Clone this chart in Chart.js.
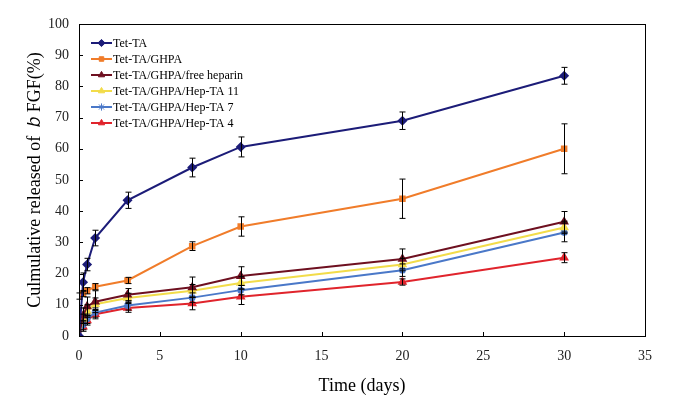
<!DOCTYPE html>
<html>
<head>
<meta charset="utf-8">
<script src="https://cdn.jsdelivr.net/npm/chart.js@4.4.1/dist/chart.umd.min.js"></script>
<style>
html,body{margin:0;padding:0;background:#fff;}
#wrap{width:677px;height:417px;}
</style>
</head>
<body>
<div id="wrap"><canvas id="c" width="677" height="417"></canvas></div>
<script>
// ---- data ----
const days = [0, 0.25, 0.5, 1, 3, 7, 10, 20, 30];
const seriesNames = ["Tet-TA", "Tet-TA/GHPA", "Tet-TA/GHPA/free heparin", "Tet-TA/GHPA/Hep-TA 11", "Tet-TA/GHPA/Hep-TA 7", "Tet-TA/GHPA/Hep-TA 4"];
const tetTA      = [0, 17.2, 22.9, 31.4, 43.5, 54.0, 60.6, 69.0, 83.4];
const tetTAErr   = [0, 3.0, 2.0, 2.5, 2.6, 3.0, 3.2, 2.8, 2.7];
const ghpa       = [12.8, 13.6, 14.5, 15.8, 17.8, 28.8, 35.1, 44.0, 60.0];
const ghpaErr    = [1.0, 1.0, 1.0, 1.0, 1.0, 1.4, 3.1, 6.3, 8.0];
const freeHep    = [0, 6.5, 9.5, 11.0, 13.2, 15.6, 19.2, 24.7, 36.6];
const freeHepErr = [0, 2.5, 3.0, 3.5, 2.0, 3.3, 3.0, 3.2, 3.3];
const hep11      = [0, 5.5, 8.0, 10.2, 12.2, 14.5, 17.0, 22.9, 34.8];
const hep11Err   = [0, 1.5, 2.0, 2.0, 1.5, 2.0, 2.0, 2.0, 2.0];
const hep7       = [0, 3.5, 5.5, 7.5, 9.8, 12.3, 14.7, 21.1, 33.2];
const hep7Err    = [0, 1.5, 1.5, 1.5, 1.5, 1.5, 1.5, 2.0, 3.0];
const hep4       = [0, 3.0, 5.0, 7.0, 9.0, 10.4, 12.6, 17.3, 25.1];
const hep4Err    = [0, 1.5, 1.5, 1.5, 1.4, 2.0, 2.5, 1.0, 1.6];
const xTicks = [0, 5, 10, 15, 20, 25, 30, 35];
const yTicks = [0, 10, 20, 30, 40, 50, 60, 70, 80, 90, 100];

const colors = ["#1c1c78", "#f07c2a", "#6e1020", "#f2dc4a", "#4a78c8", "#e0242c"];
const styles = ["rectRot", "rect", "triangle", "triangle", "star", "triangle"];
const values = [tetTA, ghpa, freeHep, hep11, hep7, hep4];
const errs = [tetTAErr, ghpaErr, freeHepErr, hep11Err, hep7Err, hep4Err];

const FONT = "'Times New Roman','Liberation Serif',serif";

const datasets = values.map((v, i) => ({
  label: seriesNames[i],
  data: days.map((d, j) => ({x: d, y: v[j]})),
  errors: errs[i],
  borderColor: colors[i],
  backgroundColor: colors[i],
  pointBackgroundColor: colors[i],
  pointBorderColor: colors[i],
  pointStyle: styles[i],
  pointRadius: styles[i] === 'rect' ? 3.2 : 3.6,
  borderWidth: 2,
  tension: 0
}));

const extras = {
  id: 'extras',
  afterDatasetsDraw(chart) {
    const ctx = chart.ctx;
    const xs = chart.scales.x, ys = chart.scales.y;
    const a = chart.chartArea;
    ctx.save();
    // error bars
    ctx.strokeStyle = '#000';
    ctx.lineWidth = 1;
    chart.data.datasets.forEach(ds => {
      ds.data.forEach((p, j) => {
        const e = ds.errors[j];
        if (!e) return;
        const px = Math.round(xs.getPixelForValue(p.x)) + 0.5;
        const y1 = ys.getPixelForValue(p.y + e);
        const y2 = ys.getPixelForValue(p.y - e);
        ctx.beginPath();
        ctx.moveTo(px, y1); ctx.lineTo(px, y2);
        ctx.moveTo(px - 3, y1); ctx.lineTo(px + 3, y1);
        ctx.moveTo(px - 3, y2); ctx.lineTo(px + 3, y2);
        ctx.stroke();
      });
    });
    // frame
    ctx.strokeStyle = '#000';
    ctx.lineWidth = 1;
    ctx.strokeRect(Math.round(a.left) + 0.5, Math.round(a.top) + 0.5, Math.round(a.right - a.left), Math.round(a.bottom - a.top));
    // inward ticks
    ctx.beginPath();
    xTicks.forEach(t => {
      const px = Math.round(xs.getPixelForValue(t)) + 0.5;
      ctx.moveTo(px, a.bottom); ctx.lineTo(px, a.bottom - 4);
    });
    yTicks.forEach(t => {
      const py = Math.round(ys.getPixelForValue(t)) + 0.5;
      ctx.moveTo(a.left, py); ctx.lineTo(a.left + 4, py);
    });
    ctx.stroke();
    // legend
    const lx = 91, ty = 43, step = 16;
    ctx.textBaseline = 'middle';
    chart.data.datasets.forEach((ds, i) => {
      const y = ty + i * step;
      ctx.strokeStyle = ds.borderColor;
      ctx.lineWidth = 2;
      ctx.beginPath();
      ctx.moveTo(lx, y); ctx.lineTo(lx + 21, y);
      ctx.stroke();
      ctx.fillStyle = ds.pointBackgroundColor;
      ctx.strokeStyle = ds.pointBorderColor;
      ctx.lineWidth = 1;
      Chart.helpers.drawPoint(ctx, {pointStyle: ds.pointStyle, radius: ds.pointRadius, rotation: 0, borderWidth: 1}, lx + 10.5, y);
      ctx.fillStyle = '#000';
      ctx.font = "12px " + FONT;
      ctx.fillText(ds.label, lx + 22, y + 1);
    });
    ctx.restore();
  }
};

new Chart(document.getElementById('c'), {
  type: 'line',
  data: {datasets},
  options: {
    responsive: false,
    animation: false,
    devicePixelRatio: 1,
    layout: {padding: {top: 24, right: 32, left: 0, bottom: 0}},
    plugins: {legend: {display: false}, tooltip: {enabled: false}},
    scales: {
      x: {
        type: 'linear', min: 0, max: 35,
        afterBuildTicks: s => { s.ticks = xTicks.map(v => ({value: v})); },
        afterFit: s => { s.height = 81; },
        grid: {display: false, drawTicks: false},
        border: {display: false},
        ticks: {padding: 12, color: '#222', font: {family: FONT, size: 14}},
        title: {display: true, text: 'Time (days)', color: '#000', font: {family: FONT, size: 18}, padding: {top: 0, bottom: 20}}
      },
      y: {
        min: 0, max: 100,
        afterBuildTicks: s => { s.ticks = yTicks.map(v => ({value: v})); },
        afterFit: s => { s.width = 79; },
        grid: {display: false, drawTicks: false},
        border: {display: false},
        ticks: {padding: 10, color: '#222', font: {family: FONT, size: 14}},
        title: {display: true, text: 'Culmulative released of  𝑏 FGF(%)', color: '#000', font: {family: FONT, size: 18}, padding: {top: 24, bottom: 0}}
      }
    }
  },
  plugins: [extras]
});
</script>
</body>
</html>
